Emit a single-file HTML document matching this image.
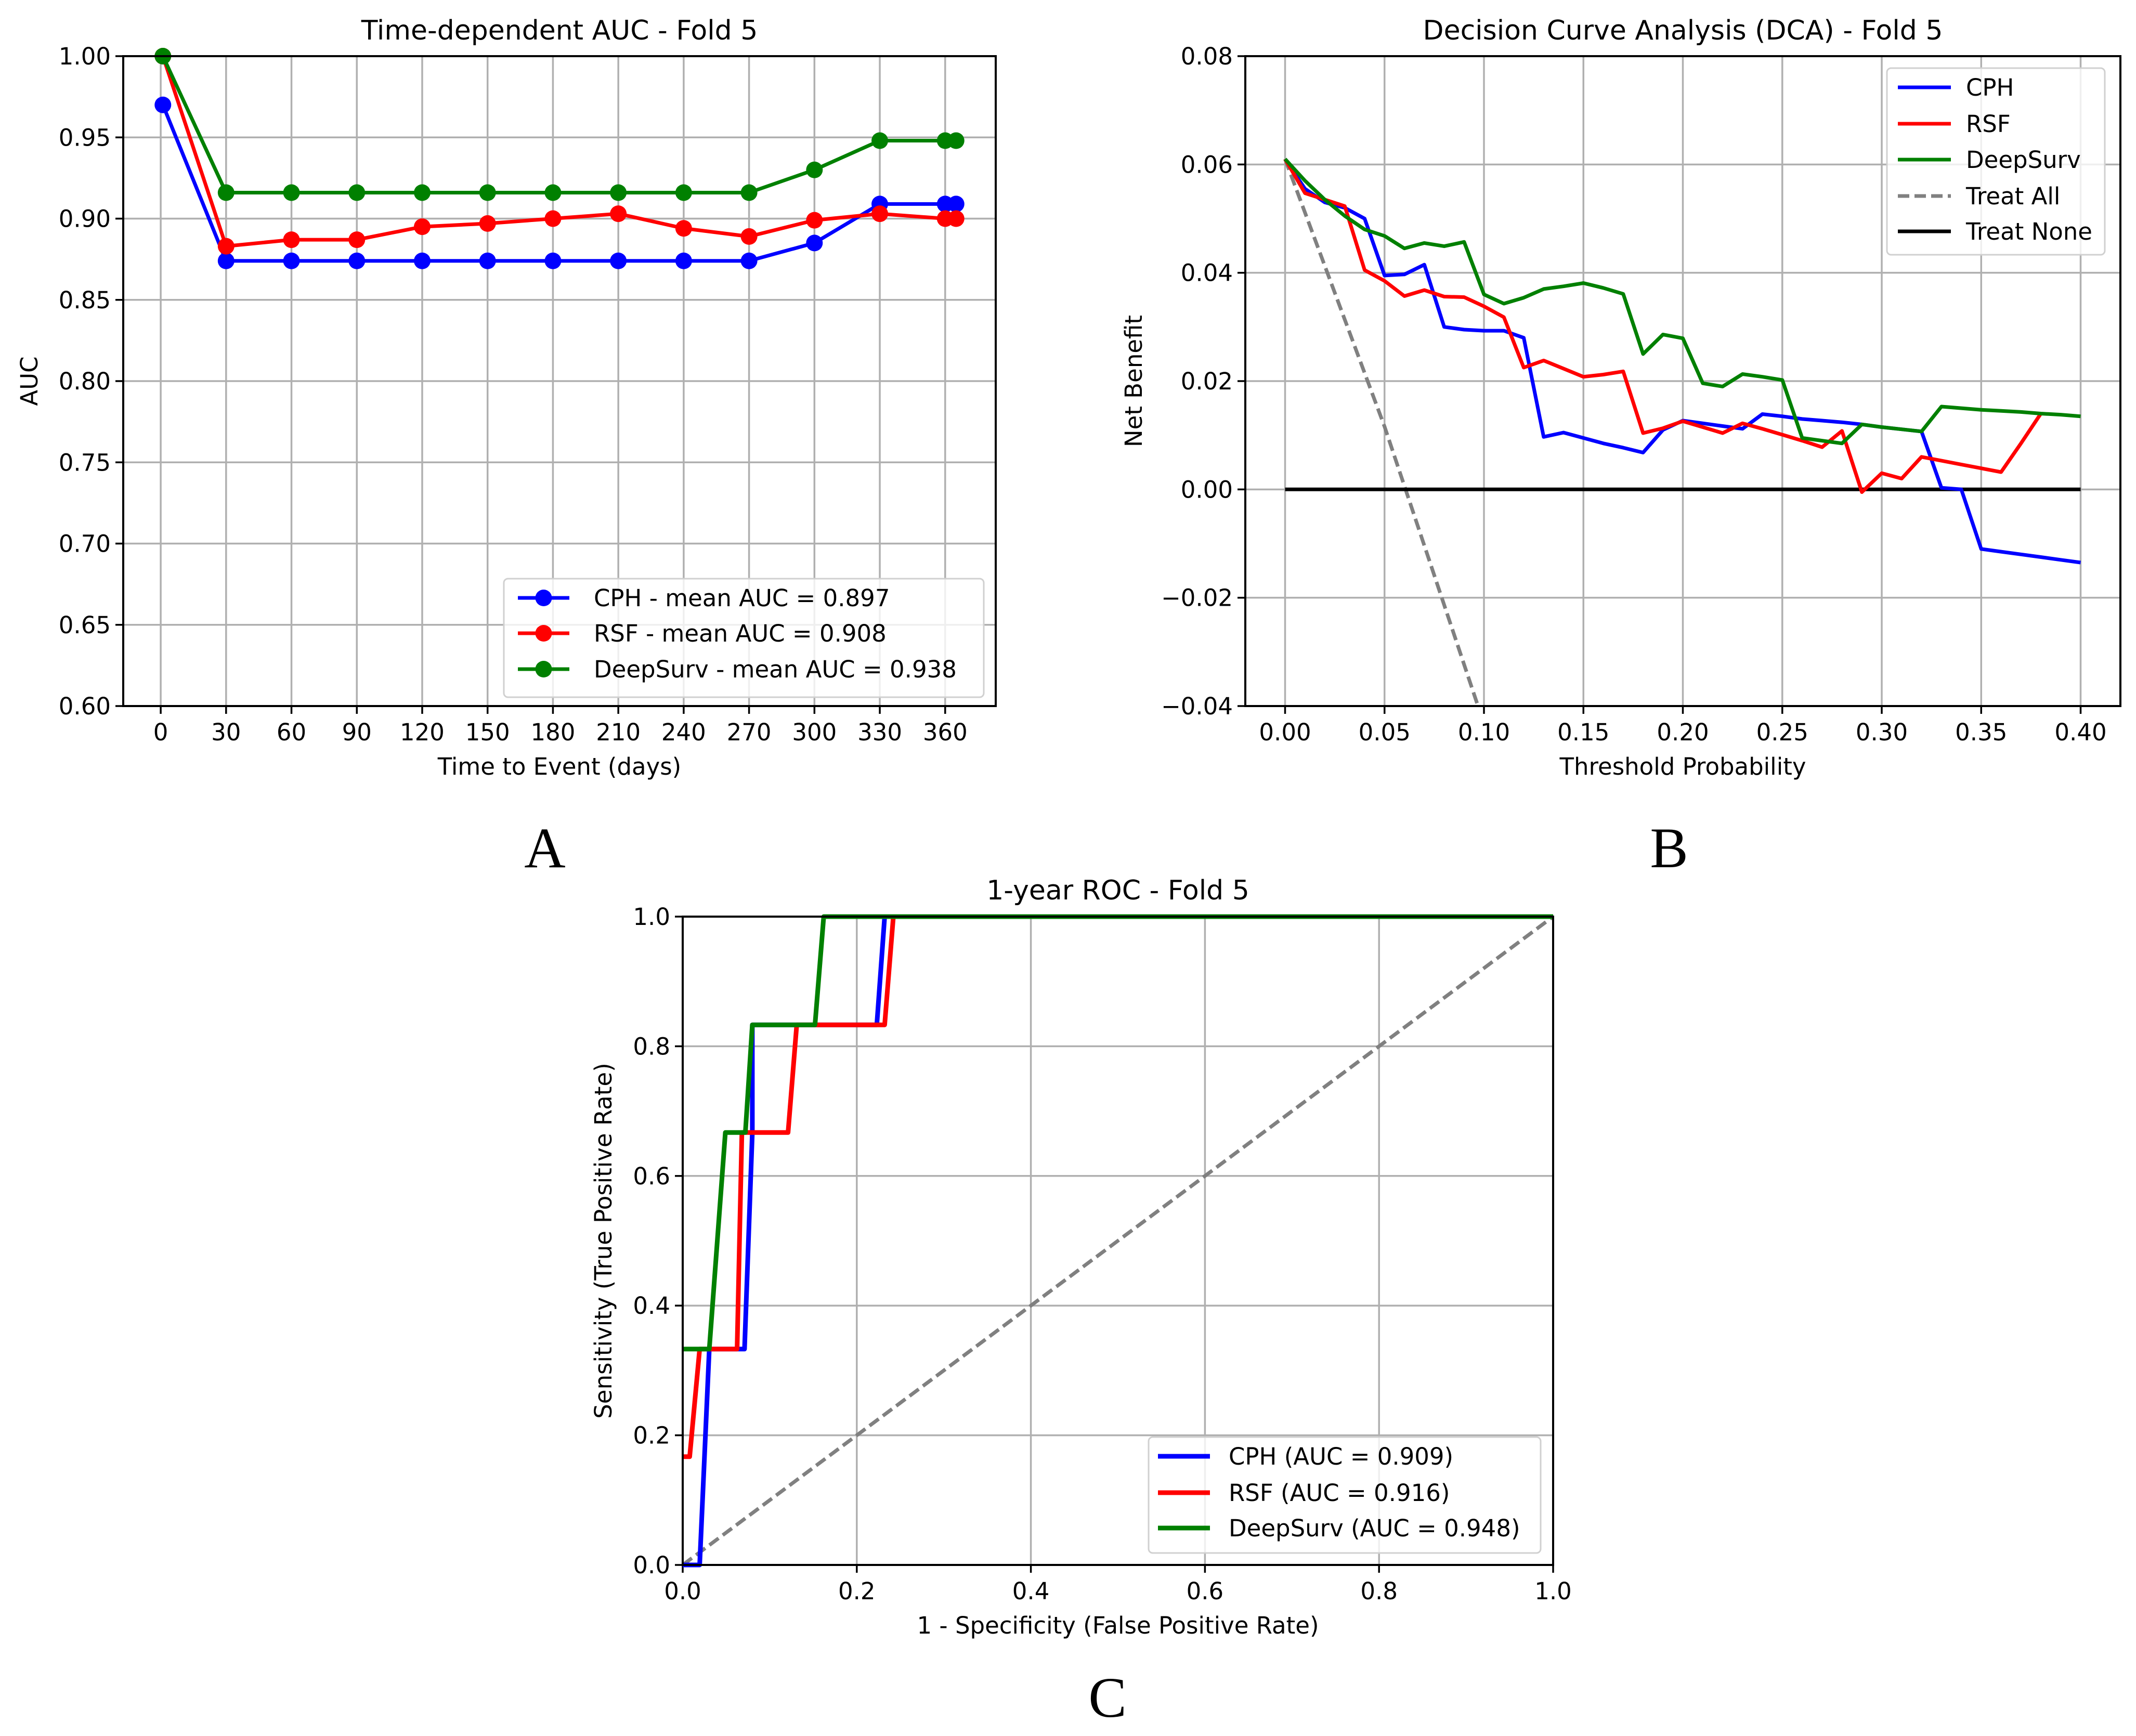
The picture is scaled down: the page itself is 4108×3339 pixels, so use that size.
<!DOCTYPE html>
<html><head><meta charset="utf-8"><style>
html,body{margin:0;padding:0;background:#fff;}
svg{display:block;font-family:"DejaVu Sans","Liberation Sans",sans-serif;}
</style></head><body>
<svg id="fig" width="4108" height="3339" viewBox="0 0 4108 3339" xmlns="http://www.w3.org/2000/svg">
<rect width="4108" height="3339" fill="#fff"/>
</svg>
<script>
// ---- Panel A data ----
const aDays = [1,30,60,90,120,150,180,210,240,270,300,330,360,365];
const aCPH = [0.970,0.874,0.874,0.874,0.874,0.874,0.874,0.874,0.874,0.874,0.885,0.909,0.909,0.909];
const aRSF = [1.000,0.883,0.887,0.887,0.895,0.897,0.900,0.903,0.894,0.889,0.899,0.903,0.900,0.900];
const aDeep = [1.000,0.916,0.916,0.916,0.916,0.916,0.916,0.916,0.916,0.916,0.930,0.948,0.948,0.948];
const aXTicks = [0,30,60,90,120,150,180,210,240,270,300,330,360];
const aYTicks = [0.60,0.65,0.70,0.75,0.80,0.85,0.90,0.95,1.00];
const aLegend = ["CPH - mean AUC = 0.897","RSF - mean AUC = 0.908","DeepSurv - mean AUC = 0.938"];
// ---- Panel B data ----
const bThr = [0,0.01,0.02,0.03,0.04,0.05,0.06,0.07,0.08,0.09,0.10,0.11,0.12,0.13,0.14,0.15,0.16,0.17,0.18,0.19,0.20,0.21,0.22,0.23,0.24,0.25,0.26,0.27,0.28,0.29,0.30,0.31,0.32,0.33,0.34,0.35,0.36,0.37,0.38,0.39,0.40];
const bCPH = [0.061,0.0555,0.053,0.052,0.050,0.0395,0.0397,0.0415,0.030,0.0295,0.0293,0.0293,0.028,0.0097,0.0105,0.0095,0.0085,0.0077,0.0068,0.011,0.0127,0.0122,0.0117,0.0112,0.0139,0.0135,0.013,0.0127,0.0124,0.012,0.0115,0.0111,0.0107,0.0003,0.0,-0.011,-0.0115,-0.012,-0.0125,-0.013,-0.0135];
const bRSF = [0.061,0.0547,0.0535,0.0523,0.0405,0.0385,0.0357,0.0368,0.0356,0.0355,0.0338,0.0318,0.0225,0.0238,0.0223,0.0208,0.0212,0.0218,0.0104,0.0113,0.0126,0.0115,0.0104,0.0122,0.0112,0.0101,0.009,0.0078,0.0108,-0.0005,0.003,0.002,0.006,0.0053,0.0046,0.0039,0.0032,0.0085,0.014];
const bDeep = [0.061,0.057,0.0535,0.0505,0.048,0.0468,0.0445,0.0455,0.0449,0.0457,0.036,0.0343,0.0354,0.037,0.0375,0.0381,0.0372,0.0361,0.025,0.0286,0.0279,0.0196,0.019,0.0213,0.0208,0.0202,0.0095,0.009,0.0085,0.012,0.0115,0.0111,0.0107,0.0153,0.0150,0.0147,0.0145,0.0143,0.0140,0.0138,0.0135];
const bAllX = [0,0.05,0.10];
const bAllY = [0.061,0.0116,-0.0433];
const bNoneX = [0,0.40];
const bNoneY = [0,0];
const bXTicks = [0,0.05,0.10,0.15,0.20,0.25,0.30,0.35,0.40];
const bYTicks = [-0.04,-0.02,0,0.02,0.04,0.06,0.08];
const bLegend = ["CPH","RSF","DeepSurv","Treat All","Treat None"];
// ---- Panel C data ----
const cCPHx = [0,0.0195,0.0305,0.071,0.080,0.080,0.223,0.232,1];
const cCPHy = [0,0,0.333,0.333,0.667,0.833,0.833,1,1];
const cRSFx = [0,0.008,0.0195,0.0625,0.068,0.121,0.131,0.232,0.242,1];
const cRSFy = [0.167,0.167,0.333,0.333,0.667,0.667,0.833,0.833,1,1];
const cDeepx = [0,0.0305,0.049,0.072,0.080,0.152,0.162,1];
const cDeepy = [0.333,0.333,0.667,0.667,0.833,0.833,1,1];
const cTicks = [0,0.2,0.4,0.6,0.8,1.0];
const cLegend = ["CPH (AUC = 0.909)","RSF (AUC = 0.916)","DeepSurv (AUC = 0.948)"];

const NS="http://www.w3.org/2000/svg";
const svg=document.getElementById('fig');
function el(tag,attrs,parent,text){const e=document.createElementNS(NS,tag);for(const k in attrs)e.setAttribute(k,attrs[k]);if(text!==undefined)e.textContent=text;(parent||svg).appendChild(e);return e;}
function scale(d0,d1,r0,r1){return v=>r0+(v-d0)/(d1-d0)*(r1-r0);}
const COLORS=["#0000ff","#ff0000","#008000"];

function axesFrame(g,L,R,T,B,xs,ys,xt,yt,xfmt,yfmt,clipId){
  const c=el('clipPath',{id:clipId},g);
  el('rect',{x:L,y:T,width:R-L,height:B-T},c);
  xt.forEach(v=>{const x=xs(v);
    const gl=el('line',{x1:x,x2:x,y1:T,y2:B,stroke:'#b0b0b0','stroke-width':3.5},g);
    
    el('line',{x1:x,x2:x,y1:B,y2:B+15,stroke:'#000','stroke-width':3.5},g);
    const t=el('text',{x:x,y:B+66,'font-size':45,'text-anchor':'middle',fill:'#000'},g,xfmt(v));
    });
  yt.forEach(v=>{const y=ys(v);
    const gl=el('line',{x1:L,x2:R,y1:y,y2:y,stroke:'#b0b0b0','stroke-width':3.5},g);
    
    el('line',{x1:L-15,x2:L,y1:y,y2:y,stroke:'#000','stroke-width':3.5},g);
    const t=el('text',{x:L-24,y:y+16,'font-size':45,'text-anchor':'end',fill:'#000'},g,yfmt(v));
    });
}
function spines(g,L,R,T,B){const r=el('rect',{x:L,y:T,width:R-L,height:B-T,fill:'none',stroke:'#000','stroke-width':4},g);
  }
function poly(g,xsArr,ysArr,xs,ys,attrs,name,clip){
  const pts=xsArr.map((v,i)=>xs(v).toFixed(1)+','+ys(ysArr[i]).toFixed(1)).join(' ');
  const p=el('polyline',Object.assign({points:pts,fill:'none','stroke-linejoin':'round'},attrs),g);
  if(clip)p.setAttribute('clip-path','url(#'+clip+')');
  return p;}
function legend(g,x,y,w,h,items,rowY,lx0,lx1,tx,fs){
  const b=el('rect',{x:x,y:y,width:w,height:h,rx:8,fill:'#fff','fill-opacity':0.8,stroke:'#d0d0d0','stroke-width':3},g);
  
  items.forEach((it,i)=>{const yy=rowY[i];
    const ln=el('line',Object.assign({x1:lx0,x2:lx1,y1:yy,y2:yy},it.style),g);
    
    if(it.marker){const c=el('circle',{cx:(lx0+lx1)/2,cy:yy,r:16,fill:it.style.stroke},g);}
    const t=el('text',{x:tx,y:yy+16,'font-size':fs,fill:'#000'},g,it.label);
    });}
function txt(g,x,y,s,fs,name,extra){const t=el('text',Object.assign({x:x,y:y,'font-size':fs,'text-anchor':'middle',fill:'#000'},extra||{}),g,s);
  return t;}

// ===== Panel A =====
{const g=el('g',{});
 const L=237,R=1915,T=108,B=1358;
 const xs=scale(-17.2,383.2,L,R), ys=scale(0.6,1.0,B,T);
 axesFrame(g,L,R,T,B,xs,ys,aXTicks,aYTicks,v=>String(v),v=>v.toFixed(2),'clipA');
 [aCPH,aRSF,aDeep].forEach((s,k)=>{
   poly(g,aDays,s,xs,ys,{stroke:COLORS[k],'stroke-width':7},['cph-line','rsf-line','deepsurv-line'][k]);
   s.forEach((v,i)=>{const c=el('circle',{cx:xs(aDays[i]),cy:ys(v),r:16,fill:COLORS[k]},g);
     });});
 spines(g,L,R,T,B);
 legend(g,969,1113,923,228,aLegend.map((l,k)=>({label:l,marker:true,style:{stroke:COLORS[k],'stroke-width':7}})),[1150,1218,1287],996,1095,1142,45);
 txt(g,(L+R)/2,76,'Time-dependent AUC - Fold 5',52,'chart-title');
 txt(g,(L+R)/2,1490,'Time to Event (days)',45,'x-axis-title');
 txt(g,0,0,'AUC',45,'y-axis-title',{transform:'translate(72,'+((T+B)/2)+') rotate(-90)'});
 txt(g,1048,1668,'A',110,'panel-label-a',{'font-family':'"Liberation Serif",serif'});}

// ===== Panel B =====
{const g=el('g',{});
 const L=2395,R=4078,T=108,B=1358;
 const xs=scale(-0.02,0.42,L,R), ys=scale(-0.04,0.08,B,T);
 axesFrame(g,L,R,T,B,xs,ys,bXTicks,bYTicks,v=>v.toFixed(2),v=>(v<0?'\u2212':'')+Math.abs(v).toFixed(2),'clipB');
 poly(g,bAllX,bAllY,xs,ys,{stroke:'#808080','stroke-width':7,'stroke-dasharray':'22,10'},'treat-all-line','clipB');
 poly(g,bNoneX,bNoneY,xs,ys,{stroke:'#000','stroke-width':7},'treat-none-line','clipB');
 poly(g,bThr.slice(0,bCPH.length),bCPH,xs,ys,{stroke:COLORS[0],'stroke-width':7},'cph-line','clipB');
 poly(g,bThr.slice(0,bRSF.length),bRSF,xs,ys,{stroke:COLORS[1],'stroke-width':7},'rsf-line','clipB');
 poly(g,bThr.slice(0,bDeep.length),bDeep,xs,ys,{stroke:COLORS[2],'stroke-width':7},'deepsurv-line','clipB');
 spines(g,L,R,T,B);
 const st=[{stroke:COLORS[0],'stroke-width':7},{stroke:COLORS[1],'stroke-width':7},{stroke:COLORS[2],'stroke-width':7},{stroke:'#808080','stroke-width':7,'stroke-dasharray':'22,10'},{stroke:'#000','stroke-width':7}];
 legend(g,3629,131,419,359,bLegend.map((l,k)=>({label:l,style:st[k]})),[168,238,307,377,445],3650,3752,3781,45);
 txt(g,(L+R)/2,76,'Decision Curve Analysis (DCA) - Fold 5',52,'chart-title');
 txt(g,(L+R)/2,1490,'Threshold Probability',45,'x-axis-title');
 txt(g,0,0,'Net Benefit',45,'y-axis-title',{transform:'translate(2196,'+((T+B)/2)+') rotate(-90)'});
 txt(g,3210,1668,'B',110,'panel-label-b',{'font-family':'"Liberation Serif",serif'});}

// ===== Panel C =====
{const g=el('g',{});
 const L=1313,R=2987,T=1763,B=3010;
 const xs=scale(0,1,L,R), ys=scale(0,1,B,T);
 axesFrame(g,L,R,T,B,xs,ys,cTicks,cTicks,v=>v.toFixed(1),v=>v.toFixed(1),'clipC');
 poly(g,[0,1],[0,1],xs,ys,{stroke:'#808080','stroke-width':7,'stroke-dasharray':'22,10'},'chance-diagonal');
 poly(g,cCPHx,cCPHy,xs,ys,{stroke:COLORS[0],'stroke-width':9},'cph-roc');
 poly(g,cRSFx,cRSFy,xs,ys,{stroke:COLORS[1],'stroke-width':9},'rsf-roc');
 poly(g,cDeepx,cDeepy,xs,ys,{stroke:COLORS[2],'stroke-width':9},'deepsurv-roc');
 spines(g,L,R,T,B);
 legend(g,2209,2764,754,223,cLegend.map((l,k)=>({label:l,style:{stroke:COLORS[k],'stroke-width':9}})),[2801,2871,2939],2227,2327,2363,45);
 txt(g,(L+R)/2,1730,'1-year ROC - Fold 5',52,'chart-title');
 txt(g,(L+R)/2,3142,'1 - Specificity (False Positive Rate)',45,'x-axis-title');
 txt(g,0,0,'Sensitivity (True Positive Rate)',45,'y-axis-title',{transform:'translate(1176,'+((T+B)/2)+') rotate(-90)'});
 txt(g,2130,3302,'C',110,'panel-label-c',{'font-family':'"Liberation Serif",serif'});}
</script>
</body></html>
